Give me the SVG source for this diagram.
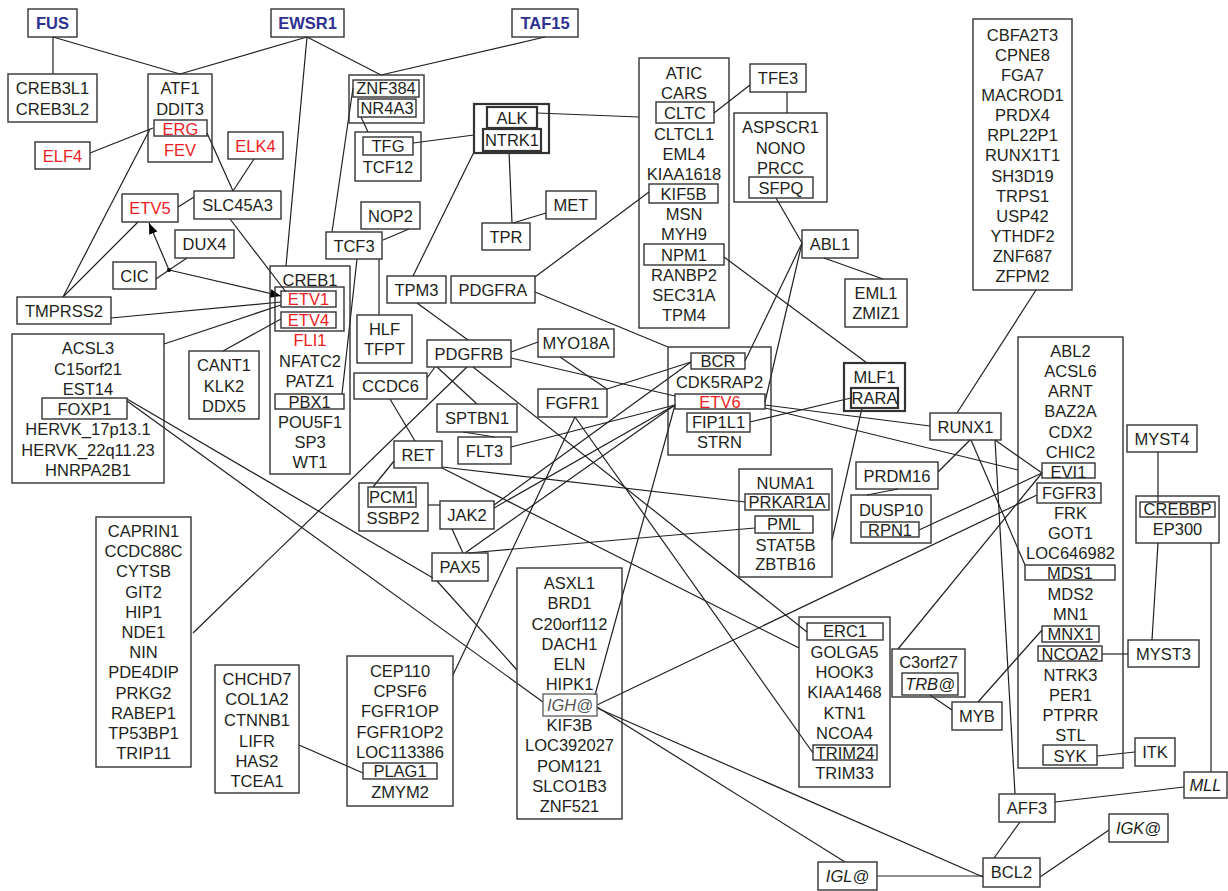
<svg xmlns="http://www.w3.org/2000/svg" width="1228" height="891" viewBox="0 0 1228 891">
<style>
rect{fill:none;stroke:#333;stroke-width:1.4}
rect.k{stroke-width:2.2}
rect.g{stroke:#666}
text{font-family:"Liberation Sans",Arial,Helvetica,sans-serif;font-size:16.5px;fill:#231f20;text-anchor:middle}
.r{fill:#ed1c24}
.h{fill:#2e3192;font-weight:bold}
.i{font-style:italic}
.gi{font-style:italic;fill:#555}
#edges line{stroke:#231f20;stroke-width:1.2}
</style>
<defs>
<marker id="arr" viewBox="0 0 10 10" refX="10" refY="5" markerWidth="11" markerHeight="11" markerUnits="userSpaceOnUse" orient="auto"><path d="M0,1 L10,5 L0,9 z" fill="#000"/></marker>
</defs>
<rect x="0" y="0" width="1228" height="891" style="fill:#fff;stroke:none"/>
<g id="edges">
<line x1="53" y1="37" x2="53" y2="74"/>
<line x1="53" y1="37" x2="180" y2="74"/>
<line x1="307" y1="37" x2="180" y2="74"/>
<line x1="307" y1="37" x2="286" y2="266"/>
<line x1="307" y1="37" x2="381" y2="75"/>
<line x1="545" y1="37" x2="381" y2="75"/>
<line x1="90" y1="153" x2="153" y2="128"/>
<line x1="150" y1="129" x2="63" y2="297"/>
<line x1="138" y1="222" x2="63" y2="297"/>
<line x1="207" y1="133" x2="233" y2="191"/>
<line x1="254" y1="159" x2="233" y2="191"/>
<line x1="194" y1="197" x2="178" y2="207"/>
<line x1="230" y1="219" x2="286" y2="292"/>
<line x1="187" y1="258" x2="169" y2="270"/>
<line x1="156" y1="279" x2="169" y2="270"/>
<line x1="169" y1="270" x2="149" y2="223" marker-end="url(#arr)"/>
<line x1="169" y1="270" x2="281" y2="296" marker-end="url(#arr)"/>
<line x1="111" y1="318" x2="281" y2="302"/>
<line x1="164" y1="344" x2="281" y2="305"/>
<line x1="223" y1="351" x2="281" y2="319"/>
<line x1="353" y1="88" x2="332" y2="232"/>
<line x1="361" y1="117" x2="368" y2="132"/>
<line x1="413" y1="143" x2="474" y2="135"/>
<line x1="537" y1="113" x2="639" y2="117"/>
<line x1="474" y1="152" x2="413" y2="276"/>
<line x1="509" y1="151" x2="512" y2="223"/>
<line x1="546" y1="213" x2="513" y2="223"/>
<line x1="409" y1="229" x2="383" y2="240"/>
<line x1="379" y1="259" x2="379" y2="315"/>
<line x1="357" y1="259" x2="342" y2="394"/>
<line x1="535" y1="277" x2="649" y2="192"/>
<line x1="535" y1="292" x2="668" y2="347"/>
<line x1="714" y1="113" x2="750" y2="85"/>
<line x1="787" y1="92" x2="787" y2="113"/>
<line x1="776" y1="198" x2="802" y2="243"/>
<line x1="824" y1="258" x2="883" y2="279"/>
<line x1="802" y1="243" x2="745" y2="361"/>
<line x1="802" y1="243" x2="765" y2="402"/>
<line x1="724" y1="257" x2="867" y2="363"/>
<line x1="417" y1="303" x2="468" y2="340"/>
<line x1="511" y1="352" x2="538" y2="342"/>
<line x1="511" y1="358" x2="675" y2="396"/>
<line x1="435" y1="367" x2="427" y2="378"/>
<line x1="437" y1="367" x2="477" y2="404"/>
<line x1="467" y1="367" x2="193" y2="633"/>
<line x1="473" y1="367" x2="807" y2="632"/>
<line x1="560" y1="357" x2="607" y2="389"/>
<line x1="607" y1="389" x2="691" y2="362"/>
<line x1="575" y1="417" x2="453" y2="675"/>
<line x1="575" y1="417" x2="813" y2="753"/>
<line x1="463" y1="432" x2="495" y2="437"/>
<line x1="511" y1="447" x2="675" y2="405"/>
<line x1="390" y1="399" x2="415" y2="441"/>
<line x1="394" y1="461" x2="373" y2="487"/>
<line x1="442" y1="467" x2="745" y2="502"/>
<line x1="442" y1="468" x2="799" y2="648"/>
<line x1="428" y1="505" x2="440" y2="505"/>
<line x1="452" y1="529" x2="463" y2="553"/>
<line x1="494" y1="505" x2="691" y2="362"/>
<line x1="494" y1="508" x2="675" y2="405"/>
<line x1="465" y1="553" x2="675" y2="405"/>
<line x1="468" y1="553" x2="755" y2="528"/>
<line x1="127" y1="399" x2="433" y2="578"/>
<line x1="437" y1="581" x2="517" y2="670"/>
<line x1="127" y1="401" x2="543" y2="702"/>
<line x1="595" y1="695" x2="675" y2="405"/>
<line x1="597" y1="705" x2="1037" y2="495"/>
<line x1="597" y1="707" x2="845" y2="862"/>
<line x1="597" y1="708" x2="983" y2="877"/>
<line x1="877" y1="876" x2="983" y2="876"/>
<line x1="750" y1="422" x2="851" y2="398"/>
<line x1="862" y1="408" x2="832" y2="540"/>
<line x1="765" y1="405" x2="930" y2="426"/>
<line x1="765" y1="408" x2="1018" y2="470"/>
<line x1="1036" y1="290" x2="957" y2="413"/>
<line x1="970" y1="440" x2="938" y2="472"/>
<line x1="971" y1="440" x2="1025" y2="565"/>
<line x1="995" y1="440" x2="1042" y2="473"/>
<line x1="995" y1="440" x2="1015" y2="794"/>
<line x1="898" y1="489" x2="867" y2="495"/>
<line x1="919" y1="530" x2="1042" y2="473"/>
<line x1="898" y1="649" x2="1042" y2="473"/>
<line x1="930" y1="695" x2="952" y2="710"/>
<line x1="978" y1="702" x2="1042" y2="630"/>
<line x1="1102" y1="654" x2="1128" y2="654"/>
<line x1="1097" y1="756" x2="1135" y2="752"/>
<line x1="1158" y1="452" x2="1158" y2="502"/>
<line x1="1158" y1="543" x2="1152" y2="640"/>
<line x1="1211" y1="543" x2="1211" y2="772"/>
<line x1="1184" y1="787" x2="1055" y2="802"/>
<line x1="1020" y1="822" x2="994" y2="858"/>
<line x1="1109" y1="830" x2="1040" y2="877"/>
<line x1="299" y1="745" x2="363" y2="773"/>
<circle cx="169" cy="270" r="2" fill="#000"/>
</g>
<g id="FUS"><rect x="28" y="9" width="49" height="28"/><text class="h" x="52.5" y="29">FUS</text></g>
<g id="EWSR1"><rect x="271" y="9" width="73" height="28"/><text class="h" x="307.5" y="29">EWSR1</text></g>
<g id="TAF15"><rect x="512" y="9" width="66" height="28"/><text class="h" x="545" y="29">TAF15</text></g>
<g id="CREB3L"><rect x="8" y="74" width="89" height="48"/><text x="52.5" y="94">CREB3L1</text><text x="52.5" y="115">CREB3L2</text></g>
<g id="ATF1"><rect x="148" y="74" width="64" height="88"/><text x="180" y="94">ATF1</text><text x="180" y="115">DDIT3</text><rect x="154" y="120" width="53" height="16"/><text class="r" x="180.5" y="134.5">ERG</text><text class="r" x="180" y="156">FEV</text></g>
<g id="ELF4"><rect x="35" y="142" width="55" height="27"/><text class="r" x="62.5" y="162">ELF4</text></g>
<g id="ELK4"><rect x="228" y="132" width="55" height="27"/><text class="r" x="255.5" y="152">ELK4</text></g>
<g id="ETV5"><rect x="122" y="194" width="56" height="28"/><text class="r" x="150" y="214">ETV5</text></g>
<g id="SLC45A3"><rect x="194" y="191" width="87" height="28"/><text x="237.5" y="211">SLC45A3</text></g>
<g id="DUX4"><rect x="175" y="230" width="59" height="28"/><text x="204.5" y="250">DUX4</text></g>
<g id="CIC"><rect x="113" y="262" width="43" height="27"/><text x="134.5" y="282">CIC</text></g>
<g id="TMPRSS2"><rect x="17" y="297" width="94" height="27"/><text x="64" y="317">TMPRSS2</text></g>
<g id="ACSL3"><rect x="12" y="334" width="152" height="149"/><text x="88" y="354">ACSL3</text><text x="88" y="375">C15orf21</text><text x="88" y="395">EST14</text><rect x="42" y="398" width="85" height="21"/><text x="84.5" y="415">FOXP1</text><text x="88" y="435">HERVK_17p13.1</text><text x="88" y="456">HERVK_22q11.23</text><text x="88" y="476">HNRPA2B1</text></g>
<g id="CANT1"><rect x="189" y="351" width="70" height="68"/><text x="224" y="371">CANT1</text><text x="224" y="392">KLK2</text><text x="224" y="412">DDX5</text></g>
<g id="CREB1"><rect x="270" y="266" width="80" height="208"/><text x="310" y="286">CREB1</text><rect x="275" y="287" width="69" height="44"/><rect x="281" y="291" width="55" height="16"/><text class="r" x="308.5" y="305">ETV1</text><rect x="281" y="312" width="55" height="16"/><text class="r" x="308.5" y="326">ETV4</text><text class="r" x="310" y="346">FLI1</text><text x="310" y="367">NFATC2</text><text x="310" y="387">PATZ1</text><rect x="275" y="394" width="69" height="15"/><text x="309.5" y="408">PBX1</text><text x="310" y="428">POU5F1</text><text x="310" y="448">SP3</text><text x="310" y="468">WT1</text></g>
<g id="ZNF384"><rect x="349" y="75" width="75" height="48"/><rect x="353" y="80" width="66" height="17"/><text x="386" y="94">ZNF384</text><rect x="358" y="99" width="58" height="18"/><text x="387" y="114">NR4A3</text></g>
<g id="TFG"><rect x="355" y="132" width="66" height="49"/><rect x="363" y="137" width="50" height="18"/><text x="388" y="152">TFG</text><text x="388" y="173">TCF12</text></g>
<g id="ALK"><rect class="k" x="474" y="104" width="75" height="49"/><rect class="k" x="487" y="107" width="50" height="21"/><text x="512" y="124">ALK</text><rect class="k" x="483" y="129" width="58" height="22"/><text x="512" y="146">NTRK1</text></g>
<g id="TPR"><rect x="482" y="223" width="48" height="27"/><text x="506" y="243">TPR</text></g>
<g id="MET"><rect x="546" y="191" width="50" height="28"/><text x="571" y="211">MET</text></g>
<g id="NOP2"><rect x="361" y="202" width="59" height="27"/><text x="390.5" y="222">NOP2</text></g>
<g id="TCF3"><rect x="326" y="232" width="56" height="27"/><text x="354" y="252">TCF3</text></g>
<g id="TPM3"><rect x="387" y="276" width="59" height="27"/><text x="416.5" y="296">TPM3</text></g>
<g id="PDGFRA"><rect x="451" y="276" width="84" height="27"/><text x="493" y="296">PDGFRA</text></g>
<g id="HLF"><rect x="357" y="315" width="55" height="48"/><text x="384.5" y="335">HLF</text><text x="384.5" y="355">TFPT</text></g>
<g id="CCDC6"><rect x="354" y="373" width="73" height="26"/><text x="390.5" y="392">CCDC6</text></g>
<g id="PDGFRB"><rect x="427" y="340" width="84" height="27"/><text x="469" y="360">PDGFRB</text></g>
<g id="MYO18A"><rect x="538" y="329" width="76" height="28"/><text x="576" y="349">MYO18A</text></g>
<g id="SPTBN1"><rect x="437" y="404" width="80" height="28"/><text x="477" y="424">SPTBN1</text></g>
<g id="FLT3"><rect x="458" y="437" width="53" height="27"/><text x="484.5" y="457">FLT3</text></g>
<g id="FGFR1"><rect x="538" y="389" width="69" height="28"/><text x="572.5" y="409">FGFR1</text></g>
<g id="RET"><rect x="394" y="441" width="48" height="27"/><text x="418" y="461">RET</text></g>
<g id="PCM1"><rect x="359" y="483" width="69" height="48"/><rect x="368" y="487" width="48" height="20"/><text x="392" y="503">PCM1</text><text x="393" y="524">SSBP2</text></g>
<g id="JAK2"><rect x="440" y="501" width="54" height="28"/><text x="467" y="521">JAK2</text></g>
<g id="PAX5"><rect x="432" y="553" width="56" height="28"/><text x="460" y="573">PAX5</text></g>
<g id="ATIC"><rect x="639" y="58" width="90" height="270"/><text x="684" y="79">ATIC</text><text x="684" y="99">CARS</text><rect x="656" y="102" width="58" height="21"/><text x="685" y="119">CLTC</text><text x="684" y="140">CLTCL1</text><text x="684" y="160">EML4</text><text x="684" y="180">KIAA1618</text><rect x="649" y="184" width="69" height="19"/><text x="683.5" y="200">KIF5B</text><text x="684" y="220">MSN</text><text x="684" y="240">MYH9</text><rect x="644" y="244" width="80" height="21"/><text x="684" y="261">NPM1</text><text x="684" y="281">RANBP2</text><text x="684" y="301">SEC31A</text><text x="684" y="321">TPM4</text></g>
<g id="TFE3"><rect x="750" y="64" width="56" height="28"/><text x="778" y="84">TFE3</text></g>
<g id="ASPSCR1"><rect x="734" y="113" width="93" height="89"/><text x="780.5" y="133">ASPSCR1</text><text x="780.5" y="154">NONO</text><text x="780.5" y="174">PRCC</text><rect x="749" y="177" width="64" height="21"/><text x="781" y="194">SFPQ</text></g>
<g id="ABL1"><rect x="802" y="230" width="56" height="28"/><text x="830" y="250">ABL1</text></g>
<g id="EML1"><rect x="845" y="279" width="62" height="48"/><text x="876" y="299">EML1</text><text x="876" y="319">ZMIZ1</text></g>
<g id="CBFA2T3"><rect x="973" y="19" width="99" height="271"/><text x="1022.5" y="41">CBFA2T3</text><text x="1022.5" y="61">CPNE8</text><text x="1022.5" y="81">FGA7</text><text x="1022.5" y="101">MACROD1</text><text x="1022.5" y="121">PRDX4</text><text x="1022.5" y="141">RPL22P1</text><text x="1022.5" y="161">RUNX1T1</text><text x="1022.5" y="182">SH3D19</text><text x="1022.5" y="202">TRPS1</text><text x="1022.5" y="222">USP42</text><text x="1022.5" y="242">YTHDF2</text><text x="1022.5" y="262">ZNF687</text><text x="1022.5" y="282">ZFPM2</text></g>
<g id="BCR"><rect x="668" y="347" width="103" height="108"/><rect x="691" y="353" width="54" height="16"/><text x="718" y="367">BCR</text><text x="719.5" y="388">CDK5RAP2</text><rect x="675" y="394" width="90" height="15"/><text class="r" x="720" y="408">ETV6</text><rect x="687" y="413" width="63" height="19"/><text x="718.5" y="428">FIP1L1</text><text x="719.5" y="448">STRN</text></g>
<g id="MLF1"><rect class="k" x="844" y="363" width="61" height="48"/><text x="874.5" y="383">MLF1</text><rect class="k" x="851" y="388" width="47" height="20"/><text x="874.5" y="404">RARA</text></g>
<g id="NUMA1"><rect x="739" y="469" width="93" height="108"/><text x="785.5" y="489">NUMA1</text><rect x="745" y="494" width="84" height="16"/><text x="787" y="508">PRKAR1A</text><rect x="755" y="516" width="58" height="17"/><text x="784" y="530">PML</text><text x="785.5" y="551">STAT5B</text><text x="785.5" y="570">ZBTB16</text></g>
<g id="RUNX1"><rect x="930" y="413" width="71" height="27"/><text x="965.5" y="433">RUNX1</text></g>
<g id="PRDM16"><rect x="856" y="462" width="82" height="27"/><text x="897" y="482">PRDM16</text></g>
<g id="DUSP10"><rect x="851" y="495" width="80" height="48"/><text x="891" y="516">DUSP10</text><rect x="861" y="522" width="58" height="15"/><text x="890" y="536">RPN1</text></g>
<g id="ABL2"><rect x="1018" y="337" width="105" height="431"/><text x="1070.5" y="357">ABL2</text><text x="1070.5" y="377">ACSL6</text><text x="1070.5" y="397">ARNT</text><text x="1070.5" y="417">BAZ2A</text><text x="1070.5" y="438">CDX2</text><text x="1070.5" y="458">CHIC2</text><rect x="1042" y="463" width="53" height="15"/><text x="1068.5" y="478">EVI1</text><rect x="1037" y="483" width="64" height="20"/><text x="1069" y="499">FGFR3</text><text x="1070.5" y="519">FRK</text><text x="1070.5" y="539">GOT1</text><text x="1070.5" y="559">LOC646982</text><rect x="1025" y="565" width="90" height="15"/><text x="1070" y="579">MDS1</text><text x="1070.5" y="600">MDS2</text><text x="1070.5" y="620">MN1</text><rect x="1042" y="626" width="57" height="16"/><text x="1070.5" y="640">MNX1</text><rect x="1038" y="646" width="64" height="15"/><text x="1070" y="660">NCOA2</text><text x="1070.5" y="681">NTRK3</text><text x="1070.5" y="701">PER1</text><text x="1070.5" y="721">PTPRR</text><text x="1070.5" y="741">STL</text><rect x="1043" y="745" width="54" height="20"/><text x="1070" y="762">SYK</text></g>
<g id="MYST4"><rect x="1127" y="425" width="70" height="27"/><text x="1162" y="445">MYST4</text></g>
<g id="CREBBP"><rect x="1136" y="496" width="83" height="47"/><rect x="1140" y="502" width="75" height="15"/><text x="1177.5" y="515">CREBBP</text><text x="1177.5" y="535">EP300</text></g>
<g id="MYST3"><rect x="1128" y="640" width="71" height="27"/><text x="1163.5" y="660">MYST3</text></g>
<g id="ITK"><rect x="1135" y="738" width="40" height="28"/><text x="1155" y="758">ITK</text></g>
<g id="MLL"><rect x="1184" y="772" width="43" height="26"/><text class="i" x="1205.5" y="791">MLL</text></g>
<g id="IGK"><rect x="1109" y="814" width="59" height="28"/><text class="i" x="1138.5" y="834">IGK@</text></g>
<g id="AFF3"><rect x="999" y="794" width="56" height="28"/><text x="1027" y="814">AFF3</text></g>
<g id="BCL2"><rect x="983" y="858" width="57" height="29"/><text x="1011.5" y="878">BCL2</text></g>
<g id="IGL"><rect x="818" y="862" width="59" height="28"/><text class="i" x="847.5" y="882">IGL@</text></g>
<g id="C3orf27"><rect x="892" y="649" width="73" height="48"/><text x="928.5" y="668">C3orf27</text><rect x="902" y="673" width="56" height="22"/><text class="i" x="930" y="690">TRB@</text></g>
<g id="MYB"><rect x="952" y="702" width="50" height="28"/><text x="977" y="722">MYB</text></g>
<g id="ERC1"><rect x="799" y="617" width="91" height="170"/><rect x="807" y="623" width="76" height="17"/><text x="845" y="637">ERC1</text><text x="844.5" y="658">GOLGA5</text><text x="844.5" y="678">HOOK3</text><text x="844.5" y="698">KIAA1468</text><text x="844.5" y="719">KTN1</text><text x="844.5" y="739">NCOA4</text><rect x="813" y="745" width="64" height="15"/><text x="845" y="759">TRIM24</text><text x="844.5" y="779">TRIM33</text></g>
<g id="ASXL1"><rect x="517" y="568" width="105" height="251"/><text x="569.5" y="589">ASXL1</text><text x="569.5" y="609">BRD1</text><text x="569.5" y="630">C20orf112</text><text x="569.5" y="650">DACH1</text><text x="569.5" y="670">ELN</text><text x="569.5" y="690">HIPK1</text><rect class="g" x="543" y="694" width="54" height="22"/><text class="gi" x="570" y="711">IGH@</text><text x="569.5" y="731">KIF3B</text><text x="569.5" y="751">LOC392027</text><text x="569.5" y="772">POM121</text><text x="569.5" y="792">SLCO1B3</text><text x="569.5" y="812">ZNF521</text></g>
<g id="CEP110"><rect x="347" y="656" width="106" height="150"/><text x="400" y="677">CEP110</text><text x="400" y="697">CPSF6</text><text x="400" y="717">FGFR1OP</text><text x="400" y="738">FGFR1OP2</text><text x="400" y="758">LOC113386</text><rect x="363" y="763" width="74" height="16"/><text x="400" y="777">PLAG1</text><text x="400" y="798">ZMYM2</text></g>
<g id="CHCHD7"><rect x="215" y="665" width="84" height="128"/><text x="257" y="685">CHCHD7</text><text x="257" y="705">COL1A2</text><text x="257" y="726">CTNNB1</text><text x="257" y="747">LIFR</text><text x="257" y="767">HAS2</text><text x="257" y="787">TCEA1</text></g>
<g id="CAPRIN1"><rect x="96" y="517" width="95" height="250"/><text x="143.5" y="537">CAPRIN1</text><text x="143.5" y="557">CCDC88C</text><text x="143.5" y="577">CYTSB</text><text x="143.5" y="598">GIT2</text><text x="143.5" y="618">HIP1</text><text x="143.5" y="638">NDE1</text><text x="143.5" y="658">NIN</text><text x="143.5" y="678">PDE4DIP</text><text x="143.5" y="699">PRKG2</text><text x="143.5" y="719">RABEP1</text><text x="143.5" y="739">TP53BP1</text><text x="143.5" y="759">TRIP11</text></g>
</svg>
